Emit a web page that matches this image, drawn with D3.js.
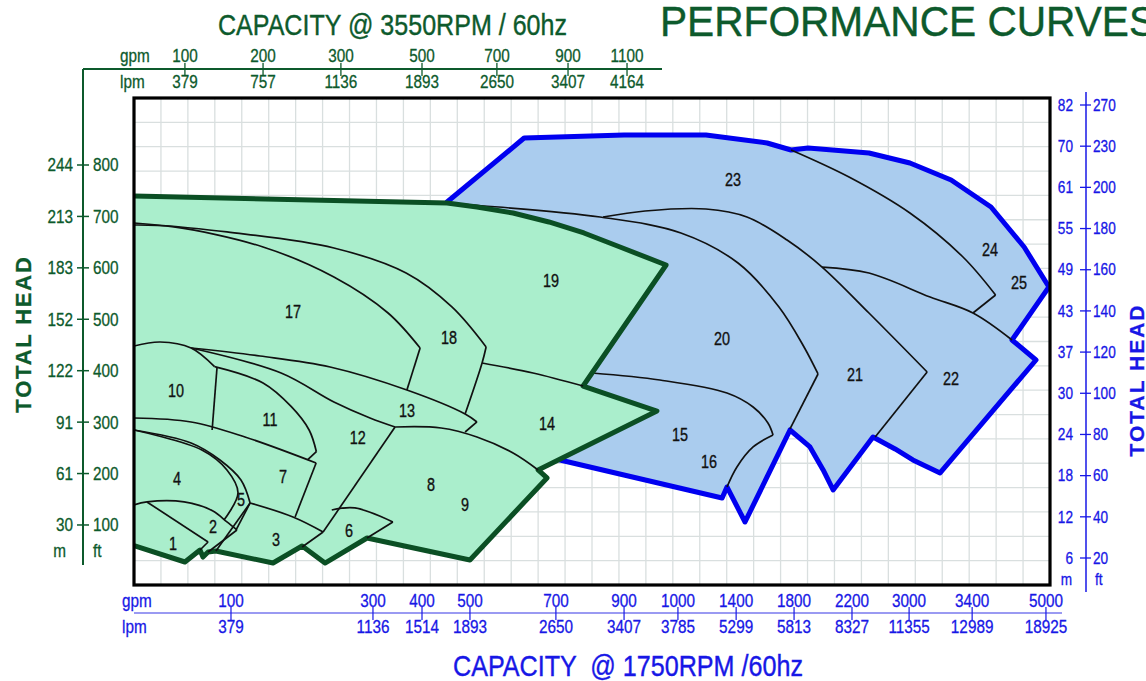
<!DOCTYPE html>
<html>
<head>
<meta charset="utf-8">
<script src="https://cdn.jsdelivr.net/npm/d3@7"></script>
<style>
  body { margin: 0; background: #fff; }
  svg { display: block; font-family: "Liberation Sans", Arial, sans-serif; }
</style>
</head>
<body>
<svg id="chart" width="1146" height="681"></svg>
<script>
// ----- axis labels -----
const leftFt = [100, 200, 300, 400, 500, 600, 700, 800];
const leftM = [30, 61, 91, 122, 152, 183, 213, 244];
const rightFt = [20, 40, 60, 80, 100, 120, 140, 160, 180, 200, 230, 270];
const rightM = [6, 12, 18, 24, 30, 37, 43, 49, 55, 61, 70, 82];
const topGpm = [100, 200, 300, 500, 700, 900, 1100];
const topLpm = [379, 757, 1136, 1893, 2650, 3407, 4164];
const topTickCol = [1.89, 4.79, 7.68, 10.69, 13.47, 16.11, 18.30];
const bottomGpm = [100, 300, 400, 500, 700, 900, 1000, 1400, 1800, 2200, 3000, 3400, 5000];
const bottomLpm = [379, 1136, 1514, 1893, 2650, 3407, 3785, 5299, 5813, 8327, 11355, 12989, 18925];
const bottomTickCol = [3.60, 8.87, 10.69, 12.47, 15.66, 18.19, 20.19, 22.35, 24.50, 26.65, 28.77, 31.11, 33.85];

// ----- regions: [grid column, head in ft] -----
const greenOutline = [
  [-0.3, 740], [11.62, 726.1], [12.73, 718.3], [14.07, 706.6], [15.40, 689.2], [16.70, 667.8],
  [18.04, 640.6], [19.75, 605.5], [16.67, 370.2], [19.41, 321.6], [15.00, 207.0], [15.33, 191.4],
  [12.47, 31.9], [8.65, 74.7], [7.09, 26.0], [6.24, 59.1], [5.16, 26.0], [3.04, 49.4], [2.75, 47.4],
  [2.56, 37.7], [2.45, 51.3], [1.89, 28.0], [-0.3, 65]
];
const blueOutline = [
  [11.62, 728.1], [14.48, 852.5], [18.19, 858.3], [21.23, 858.3], [23.50, 842.8], [24.39, 829.2],
  [25.02, 833.1], [27.28, 823.4], [28.80, 803.9], [30.33, 770.8], [31.81, 718.3], [33.04, 640.6],
  [33.96, 562.7], [32.59, 459.7], [33.48, 420.8], [29.92, 201.1], [28.91, 226.4], [28.25, 247.8],
  [27.43, 271.1], [25.95, 168.1], [25.58, 207.0], [25.09, 251.7], [24.35, 284.7], [22.68, 105.8],
  [22.01, 173.9], [21.83, 152.5], [15.81, 226.4], [13.59, 343.0], [11.62, 615.2]
];
const greenLines = [
  [[0, 683.3], [1.48, 679.5], [4.79, 640.6], [7.42, 582.2], [9.43, 512.2], [10.62, 444.1]],
  [[10.62, 444.1], [10.13, 362.4]],
  [[0, 687.2], [3.45, 669.8], [7.42, 638.6], [10.10, 589.9], [11.80, 523.9], [13.07, 446.1]],
  [[13.07, 446.1], [12.92, 415.0], [12.29, 315.8]],
  [[12.92, 415.0], [14.81, 395.5], [16.67, 370.2]],
  [[0, 448.0], [0.97, 455.8], [2.12, 444.1], [2.99, 407.8]],
  [[3.08, 405.3], [2.90, 284.7]],
  [[2.12, 444.1], [4.68, 428.6], [7.28, 407.2], [10.13, 362.4], [12.29, 315.8], [12.73, 300.3]],
  [[12.73, 300.3], [12.29, 280.8]],
  [[2.12, 444.1], [5.46, 395.5], [7.42, 339.1], [8.76, 308.0], [9.69, 290.5]],
  [[2.99, 407.8], [4.79, 376.1], [5.84, 330.0], [6.50, 284.7], [6.77, 242.5]],
  [[6.77, 242.5], [6.44, 226.4]],
  [[0, 308.0], [2.12, 300.3], [4.12, 271.1], [6.76, 220.6]],
  [[6.76, 220.6], [5.98, 115.6]],
  [[9.69, 290.5], [11.40, 288.6], [12.73, 271.1], [14.07, 240.0], [15.00, 207.0]],
  [[9.69, 290.5], [7.02, 86.4]],
  [[0, 284.7], [2.12, 259.4], [3.19, 226.4], [3.97, 187.5], [4.31, 142.8]],
  [[4.31, 142.8], [3.79, 90.3]],
  [[0, 284.7], [2.52, 245.8], [3.45, 207.0], [3.86, 162.3], [3.34, 109.8]],
  [[0, 138.9], [0.48, 144.8], [1.86, 144.8], [2.93, 127.2], [3.45, 105.9], [3.82, 90.3]],
  [[0.48, 144.8], [2.75, 66.9]],
  [[2.75, 66.9], [2.45, 51.3]],
  [[3.82, 90.3], [2.75, 47.4]],
  [[4.31, 142.8], [3.04, 49.4]],
  [[4.31, 142.8], [5.90, 115.6], [7.02, 86.4]],
  [[7.02, 86.4], [6.24, 57.2]],
  [[7.34, 129.2], [8.20, 133.1], [9.61, 105.9]],
  [[9.61, 105.9], [8.65, 74.7]]
];
const blueLines = [
  [[11.62, 726.1], [12.58, 722.2], [17.30, 698.9], [20.30, 667.8], [22.42, 609.4], [23.94, 523.9], [24.87, 446.1], [25.39, 393.6]],
  [[25.39, 393.6], [24.35, 286.7]],
  [[17.41, 698.9], [18.97, 710.6], [21.23, 714.4], [22.75, 698.9], [24.24, 654.2], [25.54, 601.6], [27.28, 512.2], [29.44, 397.5]],
  [[29.44, 397.5], [27.51, 271.1]],
  [[24.39, 829.2], [26.54, 776.6], [28.80, 706.6], [30.77, 621.1], [31.98, 547.2]],
  [[31.98, 547.2], [31.14, 512.2]],
  [[25.54, 601.6], [27.28, 589.9], [29.55, 543.3], [31.14, 512.2], [32.59, 459.7]],
  [[17.00, 395.5], [19.52, 381.9], [22.01, 356.6], [22.98, 329.4], [23.53, 298.3], [23.72, 275.0]],
  [[23.72, 275.0], [22.98, 251.7], [22.38, 212.8], [22.01, 173.9]]
];
const regionNames = ["1","2","3","4","5","6","7","8","9","10","11","12","13","14","15","16","17","18","19","20","21","22","23","24","25"];
const regionCol = [1.45, 2.93, 5.27, 1.60, 3.97, 7.98, 5.53, 11.02, 12.29, 1.56, 5.05, 8.31, 10.13, 15.33, 20.27, 21.34, 5.90, 11.69, 15.48, 21.83, 26.76, 30.33, 22.23, 31.77, 32.85];
const regionFt = [63.1, 96.1, 70.8, 189.4, 148.6, 88.3, 193.3, 177.8, 138.9, 360.6, 304.2, 269.2, 321.7, 296.4, 275.0, 222.5, 514.2, 463.6, 574.4, 461.7, 391.7, 383.9, 770.8, 634.7, 570.6];

// ----- layout -----
const svg = d3.select("#chart");
const plot = { left: 134, right: 1050, top: 98, bottom: 585 };
const darkGreen = "#0b4f24", textGreen = "#0d5a2c", blue = "#0000f0", textBlue = "#1717e6";

const x = d3.scaleLinear().domain([0, 34]).range([plot.left, plot.right]);
const y = d3.scaleLinear().domain([0, 800]).range([576.4, 165]);
const rows = d3.scaleLinear().domain([0, 20]).range([plot.bottom, plot.top]);
const right = d3.scalePoint().domain(rightFt).range([558, 105]);

// narrow look of the original lettering
function condense(sel, k) {
  sel.each(function () {
    const w = this.getComputedTextLength();
    d3.select(this).attr("textLength", w * k).attr("lengthAdjust", "spacingAndGlyphs");
  });
}

svg.append("defs").append("clipPath").attr("id", "plotClip")
  .append("rect").attr("x", plot.left).attr("y", plot.top)
  .attr("width", plot.right - plot.left).attr("height", plot.bottom - plot.top);

// grid
const grid = svg.append("g").attr("stroke", "#d9dfdf").attr("stroke-width", 1.3);
grid.selectAll("line.v").data(d3.range(1, 34)).join("line")
  .attr("x1", d => x(d)).attr("x2", d => x(d)).attr("y1", plot.top).attr("y2", plot.bottom);
grid.selectAll("line.h").data(d3.range(1, 20)).join("line")
  .attr("x1", plot.left).attr("x2", plot.right).attr("y1", d => rows(d)).attr("y2", d => rows(d));

const shapes = svg.append("g").attr("clip-path", "url(#plotClip)");
const poly = d3.line().x(d => x(d[0])).y(d => y(d[1]));
const curve = d3.line().x(d => x(d[0])).y(d => y(d[1])).curve(d3.curveCatmullRom.alpha(0.5));

shapes.append("path").datum(blueOutline)
  .attr("d", d => poly(d) + "Z")
  .attr("fill", "#aaccee").attr("stroke", blue).attr("stroke-width", 5).attr("stroke-linejoin", "round");

shapes.append("g").selectAll("path").data(blueLines).join("path")
  .attr("d", curve).attr("fill", "none").attr("stroke", "#111").attr("stroke-width", 1.7);

shapes.append("path").datum(greenOutline)
  .attr("d", d => poly(d) + "Z")
  .attr("fill", "#aaeecc").attr("stroke", darkGreen).attr("stroke-width", 5).attr("stroke-linejoin", "round");

shapes.append("g").selectAll("path").data(greenLines).join("path")
  .attr("d", curve).attr("fill", "none").attr("stroke", "#111").attr("stroke-width", 1.7);

shapes.append("g").selectAll("text").data(regionNames).join("text")
  .attr("x", (d, i) => x(regionCol[i])).attr("y", (d, i) => y(regionFt[i]))
  .attr("dy", "0.36em").attr("text-anchor", "middle")
  .attr("font-size", 18).attr("fill", "#111").attr("stroke", "#111").attr("stroke-width", 0.35)
  .text(d => d)
  .call(condense, 0.8);

// frame
svg.append("rect").attr("x", plot.left).attr("y", plot.top)
  .attr("width", plot.right - plot.left).attr("height", plot.bottom - plot.top)
  .attr("fill", "none").attr("stroke", "#000").attr("stroke-width", 3.2);

// left axis (ft / m)
const gl = svg.append("g").attr("fill", textGreen).attr("stroke", textGreen).attr("stroke-width", 0.3);
gl.append("line").attr("x1", 83).attr("x2", 83).attr("y1", 69).attr("y2", 565).attr("stroke-width", 2);
gl.selectAll("line.t").data(leftFt).join("line")
  .attr("x1", 77).attr("x2", 89).attr("y1", d => y(d)).attr("y2", d => y(d)).attr("stroke-width", 1.5);
gl.selectAll("text.ft").data(leftFt).join("text")
  .attr("x", 93).attr("y", d => y(d)).attr("dy", "0.36em").attr("font-size", 18)
  .text(d => d).call(condense, 0.85);
gl.selectAll("text.m").data(leftM).join("text")
  .attr("x", 73).attr("y", (d, i) => y(leftFt[i])).attr("dy", "0.36em")
  .attr("text-anchor", "end").attr("font-size", 18)
  .text(d => d).call(condense, 0.85);
gl.append("text").attr("x", 66).attr("y", 551).attr("dy", "0.36em").attr("text-anchor", "end")
  .attr("font-size", 18).text("m").call(condense, 0.85);
gl.append("text").attr("x", 93).attr("y", 551).attr("dy", "0.36em")
  .attr("font-size", 18).text("ft").call(condense, 0.85);
gl.append("text")
  .attr("transform", "translate(31,334) rotate(-90)")
  .attr("text-anchor", "middle").attr("font-size", 22).attr("font-weight", "bold")
  .attr("letter-spacing", 1.8).text("TOTAL HEAD");

// right axis
const gr = svg.append("g").attr("fill", textBlue).attr("stroke", textBlue).attr("stroke-width", 0.3);
gr.append("line").attr("x1", 1086).attr("x2", 1086).attr("y1", 92).attr("y2", 592).attr("stroke-width", 1.5);
gr.selectAll("line.t").data(rightFt).join("line")
  .attr("x1", 1080).attr("x2", 1091).attr("y1", d => right(d)).attr("y2", d => right(d)).attr("stroke-width", 1.3);
gr.selectAll("text.ft").data(rightFt).join("text")
  .attr("x", 1093).attr("y", d => right(d)).attr("dy", "0.36em").attr("font-size", 16)
  .text(d => d).call(condense, 0.85);
gr.selectAll("text.m").data(rightM).join("text")
  .attr("x", 1073).attr("y", (d, i) => right(rightFt[i])).attr("dy", "0.36em")
  .attr("text-anchor", "end").attr("font-size", 16)
  .text(d => d).call(condense, 0.85);
gr.append("text").attr("x", 1072).attr("y", 579).attr("dy", "0.36em").attr("text-anchor", "end")
  .attr("font-size", 16).text("m").call(condense, 0.85);
gr.append("text").attr("x", 1095).attr("y", 579).attr("dy", "0.36em")
  .attr("font-size", 16).text("ft").call(condense, 0.85);
gr.append("text")
  .attr("transform", "translate(1144,380) rotate(-90)")
  .attr("text-anchor", "middle").attr("font-size", 21).attr("font-weight", "bold")
  .attr("letter-spacing", 2).text("TOTAL HEAD");

// top axis (3550 rpm)
const gt = svg.append("g").attr("fill", textGreen);
gt.append("line").attr("x1", 83).attr("x2", 662).attr("y1", 69).attr("y2", 69)
  .attr("stroke", textGreen).attr("stroke-width", 1.8);
gt.selectAll("line.t").data(topTickCol).join("line")
  .attr("x1", d => x(d)).attr("x2", d => x(d)).attr("y1", 63).attr("y2", 76)
  .attr("stroke", textGreen).attr("stroke-width", 1.3);
const gtl = gt.append("g").attr("stroke", textGreen).attr("stroke-width", 0.3);
gtl.selectAll("text.g").data(topGpm).join("text")
  .attr("x", (d, i) => x(topTickCol[i])).attr("y", 56).attr("dy", "0.36em")
  .attr("text-anchor", "middle").attr("font-size", 18)
  .text(d => d).call(condense, 0.85);
gtl.selectAll("text.l").data(topLpm).join("text")
  .attr("x", (d, i) => x(topTickCol[i])).attr("y", 82).attr("dy", "0.36em")
  .attr("text-anchor", "middle").attr("font-size", 18)
  .text(d => d).call(condense, 0.85);
gtl.append("text").attr("x", 120).attr("y", 56).attr("dy", "0.36em").attr("font-size", 18)
  .text("gpm").call(condense, 0.85);
gtl.append("text").attr("x", 120).attr("y", 82).attr("dy", "0.36em").attr("font-size", 18)
  .text("lpm").call(condense, 0.85);
gt.append("text").attr("x", 218).attr("y", 35).attr("font-size", 30)
  .attr("stroke", textGreen).attr("stroke-width", 0.4)
  .attr("textLength", 349).attr("lengthAdjust", "spacingAndGlyphs")
  .text("CAPACITY @ 3550RPM / 60hz");
svg.append("text").attr("x", 660).attr("y", 36).attr("font-size", 43).attr("fill", textGreen)
  .attr("stroke", textGreen).attr("stroke-width", 0.4)
  .attr("textLength", 496).attr("lengthAdjust", "spacingAndGlyphs")
  .text("PERFORMANCE CURVES");

// bottom axis (1750 rpm)
const gb = svg.append("g").attr("fill", textBlue);
gb.append("line").attr("x1", 134).attr("x2", 1062).attr("y1", 613).attr("y2", 613)
  .attr("stroke", "#9a9af2").attr("stroke-width", 2);
gb.selectAll("line.t").data(bottomTickCol).join("line")
  .attr("x1", d => x(d)).attr("x2", d => x(d)).attr("y1", 607).attr("y2", 620)
  .attr("stroke", textBlue).attr("stroke-width", 1.2);
const gbl = gb.append("g").attr("stroke", textBlue).attr("stroke-width", 0.3);
gbl.selectAll("text.g").data(bottomGpm).join("text")
  .attr("x", (d, i) => x(bottomTickCol[i])).attr("y", 601).attr("dy", "0.36em")
  .attr("text-anchor", "middle").attr("font-size", 18)
  .text(d => d).call(condense, 0.85);
gbl.selectAll("text.l").data(bottomLpm).join("text")
  .attr("x", (d, i) => x(bottomTickCol[i])).attr("y", 627).attr("dy", "0.36em")
  .attr("text-anchor", "middle").attr("font-size", 18)
  .text(d => d).call(condense, 0.85);
gbl.append("text").attr("x", 122).attr("y", 601).attr("dy", "0.36em").attr("font-size", 18)
  .text("gpm").call(condense, 0.85);
gbl.append("text").attr("x", 122).attr("y", 627).attr("dy", "0.36em").attr("font-size", 18)
  .text("lpm").call(condense, 0.85);
gb.append("text").attr("x", 453).attr("y", 676).attr("font-size", 30)
  .attr("stroke", textBlue).attr("stroke-width", 0.4)
  .style("white-space", "pre")
  .attr("textLength", 350).attr("lengthAdjust", "spacingAndGlyphs")
  .text("CAPACITY  @ 1750RPM /60hz");
</script>
</body>
</html>
